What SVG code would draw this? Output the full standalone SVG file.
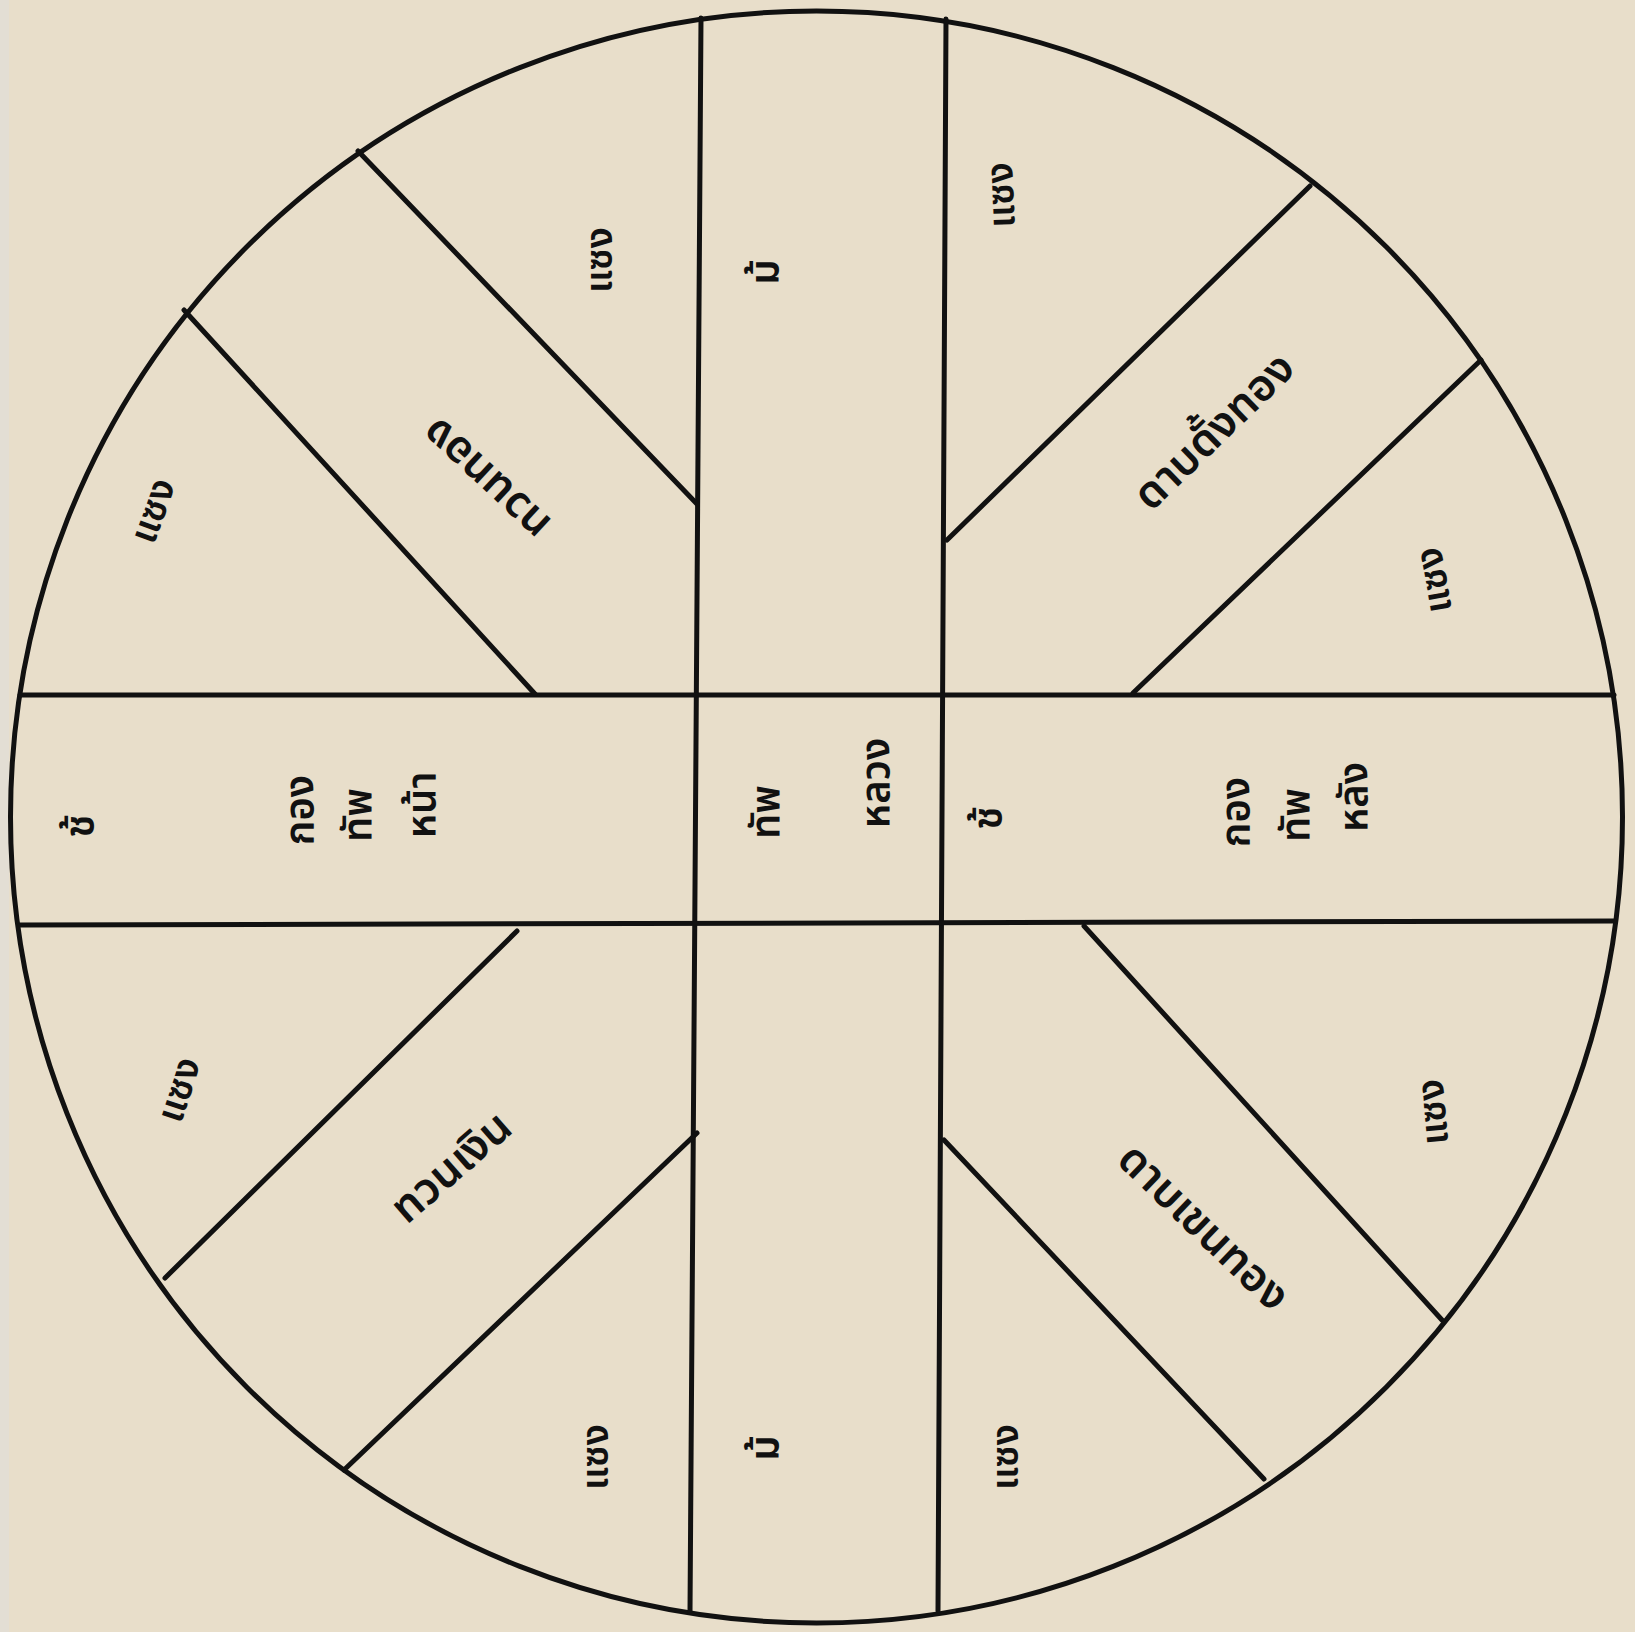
<svg xmlns="http://www.w3.org/2000/svg" width="1635" height="1632" viewBox="0 0 1635 1632">
<style>
.ln{stroke:#111;stroke-width:5;stroke-linecap:round;fill:none}
.t{font-family:"Noto Sans Thai","Noto Serif Thai","Loma","Garuda","Tlwg Typo","DejaVu Sans",sans-serif;fill:#111;text-anchor:middle;dominant-baseline:central;font-weight:600}
.s{font-size:38px}
.m{font-size:40px}
.d{font-size:44px}
</style>
<rect width="1635" height="1632" fill="#E8DECA"/>
<rect width="9" height="1632" fill="#E3DED4"/>
<g id="wheel">
<circle cx="816.5" cy="817" r="806" class="ln" stroke-width="5.5"/>
</g>
<g id="dividers">
<line class="ln" x1="701" y1="18" x2="690" y2="1612"/>
<line class="ln" x1="946" y1="19" x2="938" y2="1611"/>
<line class="ln" x1="20" y1="695" x2="1614" y2="695"/>
<line class="ln" x1="20" y1="925" x2="1614" y2="921"/>
<line class="ln" x1="358" y1="151" x2="697" y2="504"/>
<line class="ln" x1="184" y1="310" x2="535" y2="694"/>
<line class="ln" x1="1310" y1="186" x2="947" y2="540"/>
<line class="ln" x1="1481" y1="360" x2="1133" y2="693"/>
<line class="ln" x1="517" y1="931" x2="165" y2="1278"/>
<line class="ln" x1="697" y1="1133" x2="344" y2="1470"/>
<line class="ln" x1="1084" y1="926" x2="1442" y2="1320"/>
<line class="ln" x1="944" y1="1140" x2="1264" y2="1479"/>
</g>
<g id="center">
<text class="t m" transform="translate(768,812) rotate(-90)">ทัพ</text>
<text class="t m" transform="translate(878,783) rotate(-90)">หลวง</text>
</g>
<g id="front">
<text class="t m" transform="translate(82,826) rotate(-90)">ช้</text>
<text class="t m" transform="translate(302,810) rotate(-90)">กอง</text>
<text class="t m" transform="translate(360,815) rotate(-90)">ทัพ</text>
<text class="t m" transform="translate(424,805) rotate(-90)">หน้า</text>
</g>
<g id="rear">
<text class="t m" transform="translate(990,818) rotate(-90)">ช้</text>
<text class="t m" transform="translate(1238,812) rotate(-90)">กอง</text>
<text class="t m" transform="translate(1298,815) rotate(-90)">ทัพ</text>
<text class="t m" transform="translate(1356,797) rotate(-90)">หลัง</text>
</g>
<g id="top-horse">
<text class="t m" transform="translate(767,272) rotate(-90)">ม้</text>
</g>
<g id="bottom-horse">
<text class="t m" transform="translate(767,1448) rotate(-90)">ม้</text>
</g>
<g id="diag-tl"><text class="t d" transform="translate(487,478) rotate(223)">ทวนทอง</text></g>
<g id="diag-tr"><text class="t d" transform="translate(1215,432) rotate(-44)">ดาบดั้งทอง</text></g>
<g id="diag-bl"><text class="t d" transform="translate(452,1168) rotate(-41)">ทวนเงิน</text></g>
<g id="diag-br"><text class="t d" transform="translate(1203,1228) rotate(44)">ดาบเขนทอง</text></g>
<g id="flank-1"><text class="t s" transform="translate(154,511) rotate(-70)">แซง</text></g>
<g id="flank-2"><text class="t s" transform="translate(600,260) rotate(-90)">แซง</text></g>
<g id="flank-3"><text class="t s" transform="translate(1002,195) rotate(-92)">แซง</text></g>
<g id="flank-4"><text class="t s" transform="translate(1435,580) rotate(-100)">แซง</text></g>
<g id="flank-5"><text class="t s" transform="translate(1434,1112) rotate(-95)">แซง</text></g>
<g id="flank-6"><text class="t s" transform="translate(1006,1457) rotate(-90)">แซง</text></g>
<g id="flank-7"><text class="t s" transform="translate(596,1457) rotate(-90)">แซง</text></g>
<g id="flank-8"><text class="t s" transform="translate(180,1090) rotate(-72)">แซง</text></g>
</svg>
